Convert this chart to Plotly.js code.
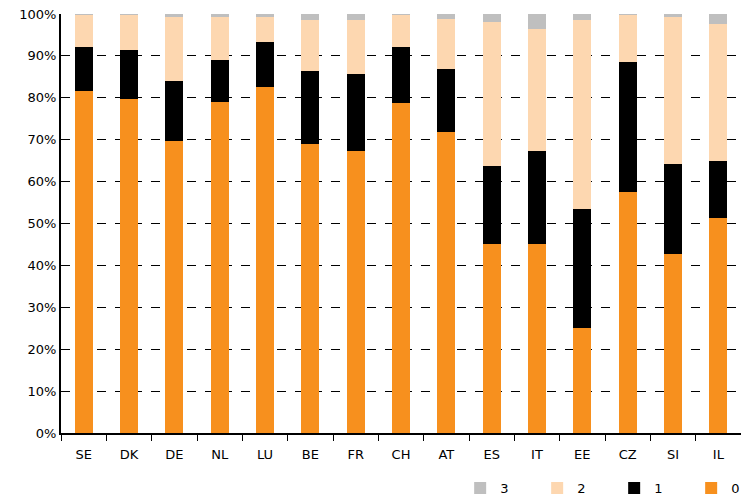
<!DOCTYPE html>
<html><head><meta charset="utf-8">
<script src="https://cdn.plot.ly/plotly-3.0.1.min.js"></script>
<style>html,body{margin:0;padding:0;background:#fff}</style>
</head><body>
<div id="chart" style="width:741px;height:495px"></div>
<script>
const countries = ["SE","DK","DE","NL","LU","BE","FR","CH","AT","ES","IT","EE","CZ","SI","IL"];
const s0 = [81.6,79.8,69.8,79.1,82.6,69.0,67.2,78.7,71.9,45.1,45.1,25.1,57.5,42.7,51.2];
const s1 = [10.5,11.6,14.1,9.9,10.6,17.4,18.6,13.4,14.9,18.7,22.2,28.3,31.1,21.4,13.8];
const s2 = [7.6,8.4,15.5,10.4,6.2,12.2,12.8,7.7,12.1,34.4,29.1,45.2,11.2,35.3,32.5];
const s3 = [0.3,0.2,0.6,0.6,0.6,1.4,1.4,0.2,1.1,1.8,3.6,1.4,0.2,0.6,2.5];
const seriesNames = ["0","1","2","3"];
const colors = ["#F7901E","#000000","#FDD7B0","#BFBFBF"];
const vals = [s0,s1,s2,s3];
const traces = vals.map((v,i)=>({
  type:"bar", x:countries, y:v, name:seriesNames[i],
  marker:{color:colors[i], line:{width:0}},
  hoverinfo:"y"
}));
const font = {family:"DejaVu Sans, Verdana, sans-serif", size:13, color:"#000"};
Plotly.newPlot("chart", traces, {
  width:741, height:495,
  margin:{l:61, r:0, t:14, b:62},
  barmode:"stack", bargap:0.6,
  font:font,
  paper_bgcolor:"#fff", plot_bgcolor:"#fff",
  xaxis:{type:"category", showline:true, linecolor:"#000", linewidth:2,
    ticks:"outside", tickson:"boundaries", ticklen:6, tickcolor:"#000", tickwidth:1,
    showgrid:false, tickfont:font, ticklabelstandoff:8, automargin:false},
  yaxis:{range:[0,100], dtick:10, ticksuffix:"%", showline:true, linecolor:"#000", linewidth:2,
    showgrid:true, gridcolor:"#000", griddash:"dash", gridwidth:1, zeroline:false,
    ticks:"", tickfont:font, fixedrange:true, automargin:false},
  legend:{orientation:"h", xref:"container", yref:"container", x:0.621, xanchor:"left", y:0.014, yanchor:"middle",
    traceorder:"reversed", entrywidth:32, font:font, itemwidth:30},
  showlegend:true
}, {displayModeBar:false, staticPlot:true});
</script>
</body></html>
